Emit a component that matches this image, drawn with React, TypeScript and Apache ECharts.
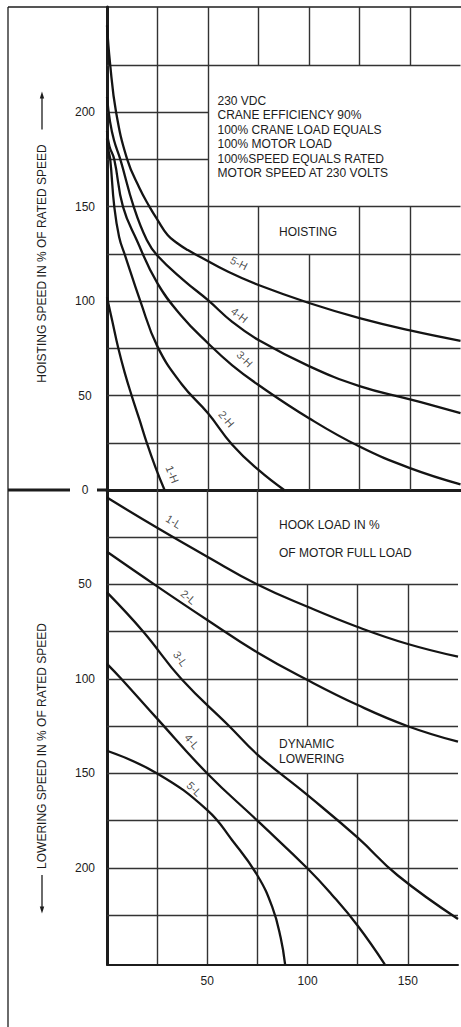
import React, { useEffect, useRef } from "react";
import * as echarts from "echarts";

// ---------- axis ranges ----------
const X_MAX = 175;
const HOIST_MAX = 255.7;
const LOWER_MAX = 251;
const hoistTickLabels = [0, 50, 100, 150, 200];
const lowerTickLabels = [50, 100, 150, 200];
const xTickLabels = [50, 100, 150];

// ---------- hoisting curves (x = hook load %, y = hoisting speed %) ----------
const curve5H = [[0, 246], [1.5, 226], [4.5, 200], [10, 175], [16, 160], [21, 150], [25, 143], [30, 135], [35, 130.5], [40, 127], [46, 123.5], [60, 115.5], [75, 108.5], [100, 99], [125, 91], [150, 84.5], [175, 79]];
const curve4H = [[0, 208], [1.5, 195], [3.5, 185], [6.6, 175], [13.2, 150], [19.7, 132.3], [25, 124], [38, 111], [50, 100.5], [62, 89], [75, 79.4], [100, 65.6], [125, 55], [150, 48], [175, 40.7]];
const curve3H = [[0, 190], [1.2, 182], [3.6, 175], [7.9, 150], [14.7, 132.3], [25, 109.4], [37, 92], [50, 77.7], [62, 66], [75, 55.6], [100, 38], [125, 23], [150, 11.6], [175, 3]];
const curve2H = [[0, 186], [0.7, 180], [1.6, 175], [3.6, 150], [6, 134], [9, 124], [16.5, 100], [25, 75.9], [37, 56], [50, 40.6], [62, 24], [75, 10.6], [87.7, 0]];
const curve1H = [[0, 102], [2.5, 90], [5.6, 75], [8.8, 62], [12.2, 50], [16, 37.5], [19.7, 25], [24, 12], [28.5, 0]];

// ---------- dynamic lowering curves (y = lowering speed %) ----------
const curve1L = [[0, 4], [25, 20], [50, 35.3], [75, 50], [100, 61.8], [125, 72.5], [150, 81.5], [175, 88.2]];
const curve2L = [[0, 32.7], [25, 51], [50, 68.8], [75, 86], [100, 100.6], [125, 113.8], [150, 125], [175, 133.2]];
const curve3L = [[0, 54.2], [18.1, 75], [37.1, 100], [61, 125], [75, 140], [100, 161.5], [125, 184], [145, 204], [175, 227]];
const curve4L = [[0, 92], [7.2, 100], [25, 121], [50, 150], [75, 175], [100, 200.3], [112, 214], [125, 230.6], [138.5, 251]];
const curve5L = [[0, 138], [25, 150], [50, 169.4], [62.5, 185.5], [75, 204], [82.5, 221], [86.6, 237], [88.8, 251]];

const hoistNames = ["5-H", "4-H", "3-H", "2-H", "1-H"];
const hoistCurves = [curve5H, curve4H, curve3H, curve2H, curve1H];
const lowerNames = ["1-L", "2-L", "3-L", "4-L", "5-L"];
const lowerCurves = [curve1L, curve2L, curve3L, curve4L, curve5L];

// curve tag anchors (data coords) and their tilt
const hoistTagAt = [[65.3, 120.1], [65.6, 92.6], [68.2, 69.4], [59.2, 37.6], [32.3, 8.3]];
const hoistTagTilt = [-27, -38, -45, -50, -68];
const lowerTagAt = [[33.2, 16.7], [40.6, 56.6], [36.6, 89.3], [42.4, 133.1], [43.5, 158.2]];
const lowerTagTilt = [-32, -40, -55, -50, -45];

// grid segments [x1, y1, x2, y2] in data units (irregular grid with blank boxes)
const hoistGridSegs = [
  [25, 0, 25, HOIST_MAX], [50, 0, 50, HOIST_MAX],
  [75, 0, 75, 150], [75, 225, 75, HOIST_MAX],
  [100, 0, 100, 125], [100, 225, 100, HOIST_MAX],
  [125, 0, 125, 150], [125, 225, 125, HOIST_MAX],
  [150, 0, 150, 150], [150, 225, 150, HOIST_MAX],
  [0, 25, X_MAX, 25], [0, 50, X_MAX, 50], [0, 75, X_MAX, 75], [0, 100, X_MAX, 100],
  [0, 125, X_MAX, 125], [0, 150, X_MAX, 150], [0, 175, 50, 175], [0, 200, 50, 200], [0, 225, X_MAX, 225],
];
const lowerGridSegs = [
  [25, 0, 25, LOWER_MAX], [50, 0, 50, LOWER_MAX], [75, 0, 75, LOWER_MAX],
  [100, 50, 100, 125], [100, 150, 100, LOWER_MAX],
  [125, 50, 125, 125], [125, 150, 125, LOWER_MAX],
  [150, 50, 150, LOWER_MAX],
  [0, 25, 75, 25], [0, 50, X_MAX, 50], [0, 75, X_MAX, 75], [0, 100, X_MAX, 100], [0, 125, X_MAX, 125],
  [0, 150, X_MAX, 150], [0, 175, X_MAX, 175], [0, 200, X_MAX, 200], [0, 225, X_MAX, 225],
];

const noteLines = [
  "230 VDC",
  "CRANE EFFICIENCY 90%",
  "100% CRANE LOAD EQUALS",
  "100% MOTOR LOAD",
  "100%SPEED EQUALS RATED",
  "MOTOR SPEED AT 230 VOLTS",
];

const FONT = '"Liberation Sans", Arial, Helvetica, sans-serif';
const INK = "#1c1c1c";
const GRID = "#333333";

function buildOption(): any {
  const curveSeries = (names: string[], curves: number[][][], idx: number) =>
    curves.map((c, i) => ({
      name: names[i],
      type: "line",
      xAxisIndex: idx,
      yAxisIndex: idx,
      data: c,
      smooth: 0.45,
      showSymbol: false,
      symbol: "none",
      silent: true,
      z: 4,
      lineStyle: { color: "#141414", width: 2.3 },
    }));

  const gridSeries = (segs: number[][], idx: number) => ({
    type: "lines",
    coordinateSystem: "cartesian2d",
    xAxisIndex: idx,
    yAxisIndex: idx,
    silent: true,
    z: 1,
    lineStyle: { color: GRID, width: 1.4, opacity: 1, curveness: 0 },
    data: segs.map(([x1, y1, x2, y2]) => ({ coords: [[x1, y1], [x2, y2]] })),
  });

  const tagSeries = (names: string[], at: number[][], tilt: number[], idx: number) => ({
    type: "scatter",
    xAxisIndex: idx,
    yAxisIndex: idx,
    symbolSize: 0,
    silent: true,
    z: 5,
    data: at.map((p, i) => ({
      value: p,
      label: {
        show: true,
        position: "inside",
        formatter: names[i],
        rotate: tilt[i],
        fontSize: 11,
        fontFamily: FONT,
        color: INK,
      },
    })),
  });

  const axisLabelStyle = { fontSize: 12, fontFamily: FONT, color: INK };

  return {
    animation: false,
    backgroundColor: "#ffffff",
    grid: [
      { left: 107, top: 7, width: 353.5, height: 483 },
      { left: 107, top: 490, width: 353.5, height: 474.3 },
    ],
    xAxis: [
      {
        gridIndex: 0, type: "value", min: 0, max: X_MAX, interval: 25,
        axisLine: { show: true, onZero: false, lineStyle: { color: INK, width: 3 } },
        axisTick: { show: false }, axisLabel: { show: false }, splitLine: { show: false },
      },
      {
        gridIndex: 1, type: "value", min: 0, max: X_MAX, interval: 50, position: "bottom",
        axisLine: { show: true, onZero: false, lineStyle: { color: INK, width: 2 } },
        axisTick: { show: false }, splitLine: { show: false },
        axisLabel: {
          ...axisLabelStyle, margin: 11,
          formatter: (v: number) => (xTickLabels.includes(v) ? String(v) : ""),
        },
      },
    ],
    yAxis: [
      {
        gridIndex: 0, type: "value", min: 0, max: HOIST_MAX, interval: 50,
        axisLine: { show: true, onZero: false, lineStyle: { color: INK, width: 3 } },
        axisTick: { show: false }, splitLine: { show: false },
        axisLabel: {
          ...axisLabelStyle, margin: 22, align: "center",
          formatter: (v: number) => (hoistTickLabels.includes(v) ? String(v) : ""),
        },
      },
      {
        gridIndex: 1, type: "value", min: 0, max: LOWER_MAX, interval: 50, inverse: true,
        axisLine: { show: true, onZero: false, lineStyle: { color: INK, width: 3 } },
        axisTick: { show: false }, splitLine: { show: false },
        axisLabel: {
          ...axisLabelStyle, margin: 22, align: "center",
          formatter: (v: number) => (lowerTickLabels.includes(v) ? String(v) : ""),
        },
      },
    ],
    series: [
      gridSeries(hoistGridSegs, 0),
      gridSeries(lowerGridSegs, 1),
      ...curveSeries(hoistNames, hoistCurves, 0),
      ...curveSeries(lowerNames, lowerCurves, 1),
      tagSeries(hoistNames, hoistTagAt, hoistTagTilt, 0),
      tagSeries(lowerNames, lowerTagAt, lowerTagTilt, 1),
    ],
    graphic: [
      // outer frame
      { type: "line", silent: true, shape: { x1: 8, y1: 7, x2: 8, y2: 1027 }, style: { stroke: INK, lineWidth: 1.3 } },
      { type: "line", silent: true, shape: { x1: 8, y1: 7, x2: 461, y2: 7 }, style: { stroke: INK, lineWidth: 1.3 } },
      // zero line extension to the left
      { type: "line", silent: true, shape: { x1: 8, y1: 490, x2: 70, y2: 490 }, style: { stroke: INK, lineWidth: 3 } },
      { type: "line", silent: true, shape: { x1: 97, y1: 490, x2: 108, y2: 490 }, style: { stroke: INK, lineWidth: 3 } },
      // arrows
      { type: "line", silent: true, shape: { x1: 42, y1: 129.5, x2: 42, y2: 97 }, style: { stroke: INK, lineWidth: 1.3 } },
      { type: "polygon", silent: true, shape: { points: [[42, 91.5], [39.8, 98.5], [44.2, 98.5]] }, style: { fill: INK } },
      { type: "line", silent: true, shape: { x1: 42, y1: 875, x2: 42, y2: 908 }, style: { stroke: INK, lineWidth: 1.3 } },
      { type: "polygon", silent: true, shape: { points: [[42, 913.5], [39.8, 906.5], [44.2, 906.5]] }, style: { fill: INK } },
      // axis titles
      {
        type: "text", silent: true, x: 42, y: 263.5, rotation: Math.PI / 2,
        style: { text: "HOISTING SPEED IN % OF RATED SPEED", fontSize: 12, fontFamily: FONT, fill: INK, align: "center", verticalAlign: "middle" },
      },
      {
        type: "text", silent: true, x: 42, y: 746, rotation: Math.PI / 2,
        style: { text: "LOWERING SPEED IN % OF RATED SPEED", fontSize: 12, fontFamily: FONT, fill: INK, align: "center", verticalAlign: "middle" },
      },
      // notes
      {
        type: "text", silent: true, x: 217.5, y: 93.5,
        style: { text: noteLines.join("\n"), fontSize: 12, lineHeight: 14.5, fontFamily: FONT, fill: INK, align: "left", verticalAlign: "top" },
      },
      {
        type: "text", silent: true, x: 308, y: 231.7,
        style: { text: "HOISTING", fontSize: 12, fontFamily: FONT, fill: INK, align: "center", verticalAlign: "middle" },
      },
      {
        type: "text", silent: true, x: 279, y: 525,
        style: { text: "HOOK LOAD IN %", fontSize: 12, fontFamily: FONT, fill: INK, align: "left", verticalAlign: "middle" },
      },
      {
        type: "text", silent: true, x: 279, y: 552.7,
        style: { text: "OF MOTOR FULL LOAD", fontSize: 12, fontFamily: FONT, fill: INK, align: "left", verticalAlign: "middle" },
      },
      {
        type: "text", silent: true, x: 279, y: 736.8,
        style: { text: "DYNAMIC\nLOWERING", fontSize: 12, lineHeight: 14.5, fontFamily: FONT, fill: INK, align: "left", verticalAlign: "top" },
      },
    ],
  };
}

export default function App() {
  const ref = useRef<HTMLDivElement>(null);
  useEffect(() => {
    if (!ref.current) return;
    const chart = echarts.init(ref.current, undefined, { renderer: "svg" });
    chart.setOption(buildOption());
    return () => chart.dispose();
  }, []);
  return (
    <div
      ref={ref}
      style={{ position: "absolute", left: 0, top: 0, width: 461, height: 1027, background: "#fff" }}
    />
  );
}
